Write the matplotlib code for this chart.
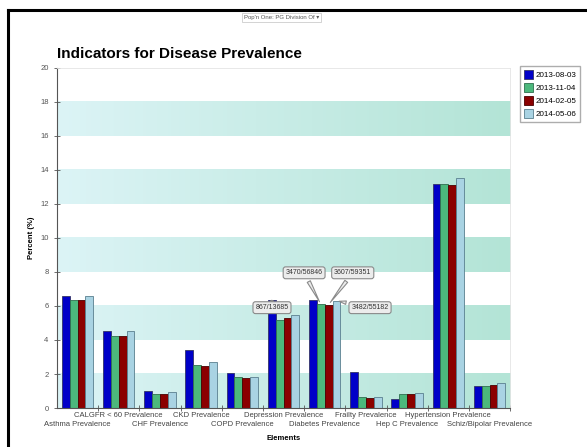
import numpy as np
import matplotlib
matplotlib.use("Agg")
from matplotlib import pyplot as plt
from matplotlib.lines import Line2D

plt.rcParams['font.family'] = ['Liberation Sans', 'DejaVu Sans']

categories = ["Asthma Prevalence", "CALGFR < 60 Prevalence", "CHF Prevalence",
              "CKD Prevalence", "COPD Prevalence", "Depression Prevalence",
              "Diabetes Prevalence", "Frailty Prevalence", "Hep C Prevalence",
              "Hypertension Prevalence", "Schiz/Bipolar Prevalence"]
dates = ["2013-08-03", "2013-11-04", "2014-02-05", "2014-05-06"]

s_2013_08 = [6.6, 4.5, 1.0, 3.4, 2.05, 867 / 13685 * 100, 6.35, 2.1, 0.52, 13.15, 1.3]
s_2013_11 = [6.35, 4.25, 0.8, 2.55, 1.8, 5.2, 3470 / 56846 * 100, 0.63, 0.8, 13.15, 1.3]
s_2014_02 = [6.35, 4.25, 0.82, 2.45, 1.75, 5.3, 3607 / 59351 * 100, 0.6, 0.83, 13.1, 1.35]
s_2014_05 = [6.6, 4.5, 0.95, 2.7, 1.85, 5.45, 3482 / 55182 * 100, 0.62, 0.86, 13.55, 1.45]
series = [s_2013_08, s_2013_11, s_2014_02, s_2014_05]

# callouts: (text, series index, category index, label position)
callouts = [("867/13685", 0, 5, (4.72, 5.9)),
            ("3470/56846", 1, 6, (5.5, 7.95)),
            ("3607/59351", 2, 6, (6.68, 7.95)),
            ("3482/55182", 3, 6, (7.1, 5.9))]

colors = ["#0000c8", "#4cb87c", "#8b0000", "#a9d3e3"]
edges = ["#333366", "#2f6f4f", "#4a0000", "#5a7f8f"]

fig = plt.figure(figsize=(5.87, 4.47), dpi=100)
fig.patch.set_facecolor("white")
ax = fig.add_axes([0.097, 0.0872, 0.772, 0.761])

n = len(categories)
x = np.arange(n)

# striped background with a light-to-teal gradient
grad = np.linspace(0, 1, 256).reshape(1, -1)
cmap = matplotlib.colors.LinearSegmentedColormap.from_list("band", ["#dcf4f6", "#b3e4d6"])
for lo in range(0, 20, 4):
    ax.imshow(grad, extent=[-0.5, n - 0.5, lo, lo + 2], aspect="auto",
              cmap=cmap, zorder=0, interpolation="bilinear")
ax.set_xlim(-0.5, n - 0.5)
ax.set_ylim(0, 20)

w = 0.19
for k, vals in enumerate(series):
    ax.bar(x + (k - 1.5) * w, vals, width=w, color=colors[k], edgecolor=edges[k],
           linewidth=0.6, label=dates[k], zorder=2)

for text, k, i, pos in callouts:
    ax.annotate(text, xy=(i + (k - 1.5) * w, series[k][i]), xytext=pos,
                fontsize=5, color="#333333", ha="center", va="center", zorder=5,
                bbox=dict(boxstyle="round,pad=0.35", fc="#ececec", ec="#8a8a8a", lw=0.8),
                arrowprops=dict(arrowstyle="wedge,tail_width=0.5", fc="#ececec",
                                ec="#8a8a8a", lw=0.8))

ax.set_yticks(range(0, 21, 2))
ax.tick_params(axis="y", labelsize=5.5, labelcolor="#555555", length=5, direction="inout",
               color="#555555", width=0.6)

# category names in two staggered rows, ticks at the group boundaries
ax.set_xticks(x)
ax.set_xticklabels([])
ax.tick_params(axis="x", which="major", length=0)
ax.set_xticks(np.arange(-0.5, n, 1.0)[1:], minor=True)
ax.tick_params(axis="x", which="minor", length=5, direction="inout", color="#555555", width=0.6)
trans = matplotlib.transforms.blended_transform_factory(ax.transData, ax.transAxes)
for i, c in enumerate(categories):
    ax.text(i, -0.012 if i % 2 else -0.038, c, transform=trans, ha="center", va="top",
            fontsize=5.5, color="#444444")

for side in ["left", "bottom"]:
    ax.spines[side].set_color("#555555")
    ax.spines[side].set_linewidth(0.8)
for side in ["top", "right"]:
    ax.spines[side].set_color("#e4e4e4")
    ax.spines[side].set_linewidth(0.6)

ax.set_xlabel("Elements", fontsize=5.5, fontweight="bold", va="top")
ax.xaxis.set_label_coords(0.5, -0.08)
ax.set_ylabel("Percent (%)", fontsize=5.5, fontweight="bold", labelpad=4)
ax.set_title("Indicators for Disease Prevalence", loc="left", fontsize=11,
             fontweight="bold", pad=7)

fig.legend(loc="upper left", bbox_to_anchor=(0.886, 0.852), fontsize=5.8,
           frameon=True, fancybox=False, edgecolor="#999999", handlelength=1.2,
           handleheight=1.3, handletextpad=0.3, borderpad=0.45, labelspacing=0.5,
           borderaxespad=0)

fig.text(0.479, 0.961, "Pop'n One: PG Division Of \u25be", fontsize=4.3, color="#555555",
         ha="center", va="center",
         bbox=dict(boxstyle="square,pad=0.3", fc="white", ec="#cccccc", lw=0.6))

# screen frame
fig.add_artist(Line2D([8 / 587, 1], [1 - 10 / 447, 1 - 10 / 447], color="black", lw=2.2,
                      transform=fig.transFigure))
fig.add_artist(Line2D([8 / 587, 8 / 587], [0, 1 - 10 / 447], color="black", lw=2.2,
                      transform=fig.transFigure))

fig.savefig("out.png", dpi=100)
